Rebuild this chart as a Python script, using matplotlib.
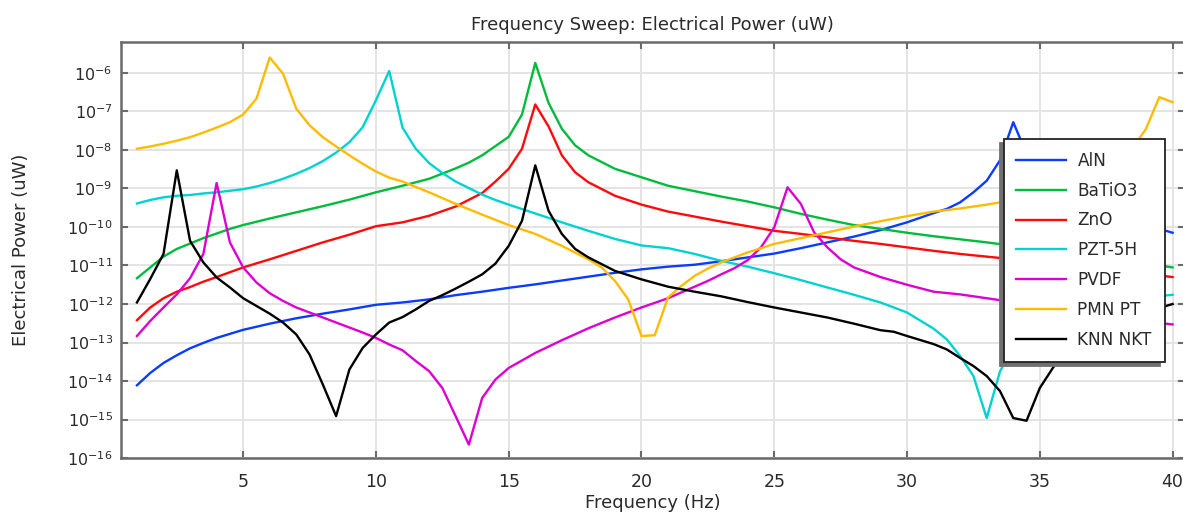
import numpy as np
import matplotlib
matplotlib.use("Agg")
import matplotlib.pyplot as plt
from matplotlib.ticker import LogLocator, NullLocator, FixedLocator

plt.rcParams['font.family'] = ['DejaVu Sans']
plt.rcParams['mathtext.fontset'] = 'dejavusans'
plt.rcParams['mathtext.default'] = 'regular'

# values, as log10 of power (uW)
aln_f = [1, 1.5, 2, 2.5, 3, 3.5, 4, 5, 6, 7, 8, 9, 10, 11, 12, 13, 14, 15, 16, 17, 18, 19, 20,
         21, 22, 23, 24, 25, 26, 27, 28, 29, 30, 31, 31.5, 32, 32.5, 33, 33.5, 34, 34.5, 35,
         35.5, 36, 37, 38, 39, 40]
aln_log = [-14.11, -13.79, -13.53, -13.33, -13.15, -13.01, -12.88, -12.67, -12.51, -12.37,
           -12.25, -12.14, -12.02, -11.96, -11.88, -11.77, -11.68, -11.58, -11.49, -11.39,
           -11.29, -11.19, -11.10, -11.03, -10.98, -10.89, -10.79, -10.69, -10.55, -10.40,
           -10.25, -10.08, -9.88, -9.64, -9.53, -9.36, -9.10, -8.80, -8.27, -7.28, -8.1,
           -8.6, -8.9, -9.1, -9.5, -9.75, -9.95, -10.15]

batio3_f = [1, 1.5, 2, 2.5, 3, 3.5, 4, 4.5, 5, 6, 7, 8, 9, 10, 11, 12, 13, 13.5, 14, 14.5,
            15, 15.5, 16, 16.5, 17, 17.5, 18, 19, 20, 21, 22, 23, 24, 25, 26, 27, 28, 29,
            30, 31, 32, 33, 34, 35, 36, 37, 38, 39, 40]
batio3_log = [-11.33, -11.05, -10.77, -10.57, -10.43, -10.29, -10.17, -10.05, -9.95, -9.78,
              -9.62, -9.46, -9.29, -9.10, -8.93, -8.75, -8.48, -8.33, -8.14, -7.90, -7.66,
              -7.08, -5.74, -6.78, -7.45, -7.88, -8.14, -8.49, -8.71, -8.93, -9.07, -9.21,
              -9.34, -9.49, -9.66, -9.81, -9.95, -10.05, -10.15, -10.24, -10.32, -10.40,
              -10.49, -10.58, -10.67, -10.76, -10.85, -10.95, -11.05]

zno_f = [1, 1.5, 2, 2.5, 3, 3.5, 4, 5, 6, 7, 8, 9, 10, 11, 12, 13, 14, 14.5, 15, 15.5, 16,
         16.5, 17, 17.5, 18, 19, 20, 21, 22, 23, 24, 25, 26, 27, 28, 29, 30, 31, 32, 33, 34,
         35, 36, 37, 38, 39, 40]
zno_log = [-12.42, -12.09, -11.85, -11.68, -11.56, -11.42, -11.30, -11.05, -10.84, -10.62,
           -10.40, -10.20, -9.98, -9.88, -9.71, -9.47, -9.12, -8.82, -8.49, -7.97, -6.82,
           -7.39, -8.14, -8.58, -8.84, -9.19, -9.42, -9.60, -9.73, -9.86, -9.98, -10.10,
           -10.18, -10.27, -10.36, -10.44, -10.53, -10.62, -10.70, -10.77, -10.84, -10.90,
           -10.97, -11.05, -11.13, -11.22, -11.30]

pzt_f = [1, 1.5, 2, 2.5, 3, 3.5, 4, 4.5, 5, 5.5, 6, 6.5, 7, 7.5, 8, 8.5, 9, 9.5, 10, 10.5,
         11, 11.5, 12, 12.5, 13, 13.5, 14, 14.5, 15, 16, 17, 18, 19, 20, 21, 22, 23, 24, 25,
         26, 27, 28, 29, 30, 31, 31.5, 32, 32.5, 33, 33.5, 34, 34.5, 35, 36, 37, 38, 39, 40]
pzt_log = [-9.39, -9.30, -9.23, -9.19, -9.17, -9.13, -9.10, -9.06, -9.02, -8.95, -8.86,
           -8.75, -8.62, -8.47, -8.29, -8.07, -7.80, -7.41, -6.71, -5.95, -7.42, -7.97,
           -8.34, -8.60, -8.82, -8.99, -9.16, -9.30, -9.42, -9.65, -9.88, -10.10, -10.31,
           -10.48, -10.55, -10.70, -10.88, -11.03, -11.20, -11.38, -11.57, -11.76, -11.96,
           -12.22, -12.64, -12.92, -13.35, -13.87, -14.96, -13.75, -13.1, -12.7, -12.45,
           -12.2, -12.03, -11.92, -11.83, -11.76]

pvdf_f = [1, 1.5, 2, 2.5, 3, 3.5, 4, 4.5, 5, 5.5, 6, 6.5, 7, 7.5, 8, 8.5, 9, 9.5, 10, 10.5,
          11, 11.5, 12, 12.5, 13, 13.5, 14, 14.5, 15, 16, 17, 18, 19, 20, 21, 21.5, 22, 22.5,
          23, 23.5, 24, 24.5, 25, 25.5, 26, 26.5, 27, 27.5, 28, 29, 30, 31, 32, 33, 34, 35,
          36, 37, 38, 39, 40]
pvdf_log = [-12.83, -12.44, -12.09, -11.75, -11.33, -10.70, -8.86, -10.40, -11.05, -11.44,
            -11.72, -11.92, -12.09, -12.22, -12.35, -12.48, -12.61, -12.74, -12.88, -13.05,
            -13.20, -13.48, -13.74, -14.18, -14.91, -15.65, -14.44, -13.96, -13.66, -13.27,
            -12.94, -12.63, -12.35, -12.09, -11.85, -11.70, -11.55, -11.40, -11.23, -11.07,
            -10.86, -10.53, -10.01, -8.97, -9.40, -10.14, -10.53, -10.84, -11.05, -11.30,
            -11.50, -11.68, -11.75, -11.85, -11.95, -12.05, -12.15, -12.25, -12.35, -12.45,
            -12.53]

pmn_f = [1, 1.5, 2, 2.5, 3, 3.5, 4, 4.5, 5, 5.5, 6, 6.5, 7, 7.5, 8, 8.5, 9, 9.5, 10, 10.5,
         11, 12, 13, 14, 15, 16, 17, 18, 18.5, 19, 19.5, 20, 20.5, 21, 21.5, 22, 22.5, 23,
         24, 25, 26, 27, 28, 29, 30, 31, 32, 33, 34, 35, 36, 37, 37.5, 38, 38.5, 39, 39.5, 40]
pmn_log = [-7.97, -7.91, -7.84, -7.76, -7.67, -7.55, -7.42, -7.28, -7.08, -6.67, -5.60,
           -6.02, -6.93, -7.36, -7.67, -7.91, -8.14, -8.36, -8.56, -8.72, -8.82, -9.10,
           -9.40, -9.68, -9.95, -10.18, -10.49, -10.84, -11.05, -11.40, -11.88, -12.83,
           -12.81, -11.83, -11.53, -11.27, -11.08, -10.92, -10.66, -10.44, -10.29, -10.14,
           -9.99, -9.85, -9.72, -9.60, -9.52, -9.42, -9.30, -9.12, -8.92, -8.65, -8.45,
           -8.2, -7.95, -7.45, -6.63, -6.76]

knn_f = [1, 1.5, 2, 2.5, 3, 3.5, 4, 4.5, 5, 5.5, 6, 6.5, 7, 7.5, 8, 8.5, 9, 9.5, 10, 10.5,
         11, 11.5, 12, 12.5, 13, 13.5, 14, 14.5, 15, 15.5, 16, 16.5, 17, 17.5, 18, 19, 20,
         21, 22, 23, 24, 25, 26, 27, 28, 29, 29.5, 30, 31, 31.5, 32, 32.5, 33, 33.5, 34,
         34.5, 35, 35.5, 36, 36.5, 37, 37.5, 38, 38.5, 39, 39.5, 40]
knn_log = [-11.96, -11.35, -10.70, -8.53, -10.36, -10.92, -11.31, -11.57, -11.85, -12.05,
           -12.25, -12.48, -12.79, -13.31, -14.09, -14.91, -13.70, -13.14, -12.79, -12.48,
           -12.34, -12.14, -11.92, -11.77, -11.60, -11.42, -11.23, -10.95, -10.49, -9.84,
           -8.40, -9.58, -10.18, -10.57, -10.79, -11.14, -11.36, -11.55, -11.68, -11.80,
           -11.95, -12.09, -12.22, -12.35, -12.51, -12.68, -12.72, -12.83, -13.04, -13.18,
           -13.40, -13.61, -13.87, -14.26, -14.96, -15.03, -14.18, -13.65, -13.2, -12.95,
           -12.75, -12.6, -12.45, -12.3, -12.2, -12.1, -12.0]

series = [
    ('AlN', aln_f, aln_log, '#0a3cff'),
    ('BaTiO3', batio3_f, batio3_log, '#00bb3c'),
    ('ZnO', zno_f, zno_log, '#ff0a0a'),
    ('PZT-5H', pzt_f, pzt_log, '#00d2d2'),
    ('PVDF', pvdf_f, pvdf_log, '#dd00d0'),
    ('PMN PT', pmn_f, pmn_log, '#ffbb00'),
    ('KNN NKT', knn_f, knn_log, '#000000'),
]

text_col = '#2a2a2a'
spine_col = '#6a6a6a'

fig = plt.figure(figsize=(11.83, 5.13), dpi=100)
ax = fig.add_axes([0.1023, 0.107, 0.899, 0.811])

for name, f, lg, col in series:
    ax.plot(f, 10.0 ** np.array(lg), color=col, linewidth=1.7, label=name)

ax.set_yscale('log')
ax.set_xlim(0.4, 40.45)
ax.set_ylim(1e-16, 10 ** -5.2)

ax.xaxis.set_major_locator(FixedLocator([5, 10, 15, 20, 25, 30, 35, 40]))
ax.yaxis.set_major_locator(LogLocator(base=10, numticks=20))
ax.yaxis.set_minor_locator(NullLocator())
ax.xaxis.set_minor_locator(NullLocator())

ax.grid(True, color='#e4e4e4', linewidth=1.4)
ax.set_axisbelow(True)
ax.tick_params(direction='in', length=5, width=1.5, color=spine_col,
               top=True, right=True, labelcolor=text_col)
ax.tick_params(axis='y', labelsize=11.5, pad=6)
ax.tick_params(axis='x', labelsize=12.5, pad=11)
for sp in ax.spines.values():
    sp.set_color(spine_col)
    sp.set_linewidth(1.8)

ax.set_title('Frequency Sweep: Electrical Power (uW)', fontsize=13, color=text_col, pad=9)
ax.set_xlabel('Frequency (Hz)', fontsize=13, color=text_col, labelpad=2)
ax.set_ylabel('Electrical Power (uW)', fontsize=13, color=text_col, labelpad=27)

leg = ax.legend(loc='upper left', bbox_to_anchor=(0.830, 0.767), borderaxespad=0,
                fontsize=12.2, frameon=True, fancybox=False, framealpha=1,
                edgecolor='#222222', handlelength=2.9, handletextpad=0.7,
                labelspacing=0.7, borderpad=0.75,
                shadow={'ox': -3, 'oy': -3, 'color': '#707070', 'alpha': 1})
leg.get_frame().set_linewidth(1.3)
for t in leg.get_texts():
    t.set_color(text_col)

fig.savefig('out.png', dpi=100)
